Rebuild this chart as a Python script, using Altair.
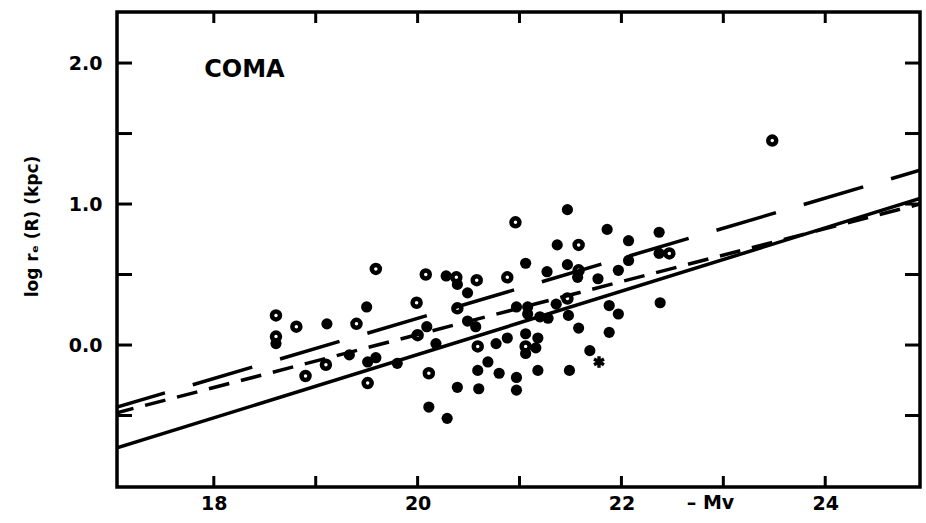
import altair as alt
import pandas as pd

# ---- data ----
filled_x = [21.47, 21.86, 22.07, 21.37, 21.47, 21.06, 21.27, 21.97, 22.07, 20.28,
            20.39, 21.57, 21.77, 20.49, 19.50, 20.97, 21.08, 21.36, 21.88, 21.97,
            20.49, 21.08, 21.20, 21.48, 21.28, 20.09, 20.57, 21.58, 21.88, 19.33,
            19.51, 19.59, 19.80, 20.18, 20.77, 20.88, 21.06, 21.18, 21.16, 21.06,
            21.69, 20.69, 20.59, 20.80, 20.97, 21.18, 21.49, 20.39, 20.60, 20.97,
            20.11, 20.29, 22.37, 22.37, 22.38, 19.11, 18.61]
filled_y = [0.96, 0.82, 0.74, 0.71, 0.57, 0.58, 0.52, 0.53, 0.60, 0.49,
            0.43, 0.48, 0.47, 0.37, 0.27, 0.27, 0.27, 0.29, 0.28, 0.22,
            0.17, 0.22, 0.20, 0.21, 0.19, 0.13, 0.13, 0.12, 0.09, -0.07,
            -0.12, -0.09, -0.13, 0.01, 0.01, 0.05, 0.08, 0.05, -0.02, -0.06,
            -0.04, -0.12, -0.18, -0.20, -0.23, -0.18, -0.18, -0.30, -0.31, -0.32,
            -0.44, -0.52, 0.80, 0.65, 0.30, 0.15, 0.01]

ring_x = [20.96, 19.59, 20.08, 20.38, 20.58, 20.88, 19.99, 20.39, 19.40, 20.00,
          20.59, 21.06, 19.51, 20.11, 21.58, 21.58, 21.47, 22.47, 23.48, 18.61,
          18.81, 18.90, 19.10, 18.61]
ring_y = [0.87, 0.54, 0.50, 0.48, 0.46, 0.48, 0.30, 0.26, 0.15, 0.07,
          -0.01, -0.01, -0.27, -0.20, 0.71, 0.53, 0.33, 0.65, 1.45, 0.21,
          0.13, -0.22, -0.14, 0.06]

star_x = [21.78]
star_y = [-0.12]

line_x = [17.05, 24.93]
solid_y = [-0.73, 1.04]
long_dash_y = [-0.44, 1.24]
short_dash_y = [-0.48, 1.00]

x_ticks = [18, 19, 20, 21, 22, 23, 24]
y_ticks = [-0.5, 0.0, 0.5, 1.0, 1.5, 2.0]
x_labels = [18, 20, 22, 24]
y_labels = [0.0, 1.0, 2.0]

X_DOMAIN = [17.05, 24.93]
Y_DOMAIN = [-1.007, 2.362]

W, H = 803, 475
FONT = "DejaVu Sans"

xs = alt.Scale(domain=X_DOMAIN, nice=False, zero=False)
ys = alt.Scale(domain=Y_DOMAIN, nice=False, zero=False)

x_axis = alt.Axis(values=x_labels, ticks=False, tickSize=0, domain=False, grid=False,
                  labelFont=FONT, labelFontSize=19, labelFontWeight="bold",
                  labelColor="black", labelPadding=7, labelOverlap=False,
                  title="– Mv", titleFont=FONT, titleFontSize=19, titleFontWeight="bold",
                  titleColor="black", titleX=593, titleY=15, titleAlign="center",
                  titleBaseline="middle")
y_axis = alt.Axis(values=y_labels, format=".1f", ticks=False, tickSize=0, domain=False,
                  grid=False, labelFont=FONT, labelFontSize=19, labelFontWeight="bold",
                  labelColor="black", labelPadding=15,
                  title="log rₑ (R) (kpc)", titleFont=FONT, titleFontSize=17,
                  titleFontWeight="bold", titleColor="black", titleX=-85, titleY=214,
                  titleAngle=270, titleAlign="center", titleBaseline="middle")


def X(field="x"):
    return alt.X(f"{field}:Q", scale=xs, axis=x_axis)


def Y(field="y"):
    return alt.Y(f"{field}:Q", scale=ys, axis=y_axis)


filled_df = pd.DataFrame({"x": filled_x, "y": filled_y})
ring_df = pd.DataFrame({"x": ring_x, "y": ring_y})
star_df = pd.DataFrame({"x": star_x, "y": star_y})

filled = alt.Chart(filled_df).mark_point(
    shape="circle", filled=True, size=125, color="black", opacity=1
).encode(x=X(), y=Y())

rings = alt.Chart(ring_df).mark_point(
    shape="circle", filled=False, size=64, color="black", strokeWidth=4.5, opacity=1
).encode(x=X(), y=Y())

star = alt.Chart(star_df).mark_point(
    shape="M0,-1L0,1M-0.87,-0.5L0.87,0.5M-0.87,0.5L0.87,-0.5",
    filled=False, size=130, color="black", strokeWidth=3.4, opacity=1
).encode(x=X(), y=Y())


def fit_line(yvals, dash=None, offset=0):
    df = pd.DataFrame({"x": line_x, "y": yvals})
    kw = dict(color="black", strokeWidth=3.5, clip=True, strokeCap="butt")
    if dash:
        kw["strokeDash"] = dash
        kw["strokeDashOffset"] = offset
    return alt.Chart(df).mark_line(**kw).encode(x=X(), y=Y())


solid = fit_line(solid_y)
long_dash = fit_line(long_dash_y, [62, 29], 12)
short_dash = fit_line(short_dash_y, [21, 12], 4)

xt_df = pd.DataFrame({"x": x_ticks})
yt_df = pd.DataFrame({"y": y_ticks})
tick_kw = dict(color="black", strokeWidth=3)
bottom_ticks = alt.Chart(xt_df).mark_rule(**tick_kw).encode(
    x=X(), y=alt.value(H - 11), y2=alt.value(H))
top_ticks = alt.Chart(xt_df).mark_rule(**tick_kw).encode(
    x=X(), y=alt.value(0), y2=alt.value(11))
left_ticks = alt.Chart(yt_df).mark_rule(**tick_kw).encode(
    y=Y(), x=alt.value(0), x2=alt.value(15))
right_ticks = alt.Chart(yt_df).mark_rule(**tick_kw).encode(
    y=Y(), x=alt.value(W - 15), x2=alt.value(W))

label_df = pd.DataFrame({"x": [18.30], "y": [1.95], "t": ["COMA"]})
coma = alt.Chart(label_df).mark_text(
    font=FONT, fontSize=24, fontWeight="bold", color="black", align="center",
    baseline="middle"
).encode(x=X(), y=Y(), text="t:N")

chart = alt.layer(
    filled, solid, long_dash, short_dash, rings, star,
    bottom_ticks, top_ticks, left_ticks, right_ticks, coma
).properties(
    width=W, height=H,
    padding={"left": 117, "top": 12, "right": 6, "bottom": 35},
    autosize=alt.AutoSizeParams(type="none"),
    background="white",
).configure_view(stroke="black", strokeWidth=3.5)

chart.save("out.html", embed_options={"renderer": "svg", "actions": False})
